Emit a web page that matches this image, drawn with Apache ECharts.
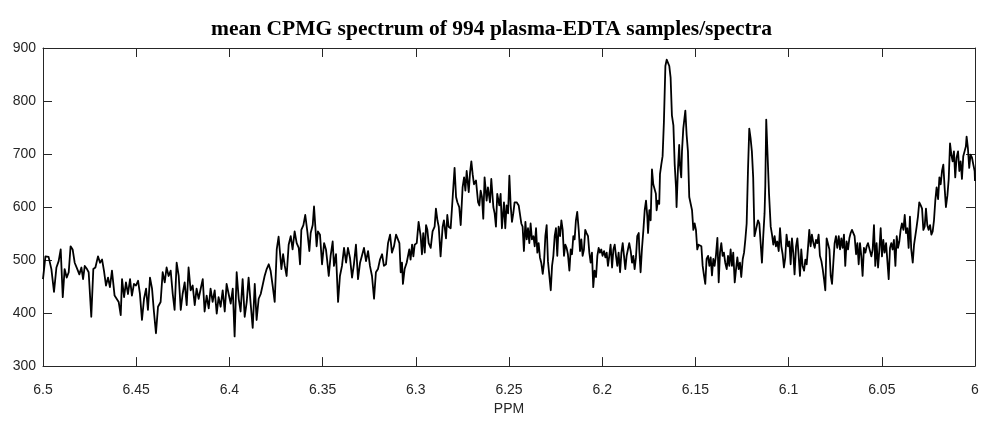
<!DOCTYPE html>
<html>
<head>
<meta charset="utf-8">
<script src="https://cdn.jsdelivr.net/npm/echarts@6/dist/echarts.min.js"></script>
<style>
html,body{margin:0;padding:0;background:#fff;}
#chart{width:983px;height:421px;}
</style>
</head>
<body>
<div id="chart"></div>
<script>
const titleText = 'mean CPMG spectrum of 994 plasma-EDTA samples/spectra';
const xAxisName = 'PPM';

const ppm = [
6.5000,6.4987,6.4970,6.4955,6.4941,6.4928,6.4916,6.4905,6.4894,6.4884,
6.4873,6.4862,6.4852,6.4841,6.4830,6.4816,6.4805,6.4794,6.4785,6.4776,
6.4764,6.4755,6.4741,6.4730,6.4719,6.4705,6.4694,6.4683,6.4673,6.4662,
6.4651,6.4641,6.4630,6.4616,6.4605,6.4594,6.4583,6.4576,6.4565,6.4555,
6.4544,6.4533,6.4523,6.4512,6.4501,6.4490,6.4480,6.4469,6.4458,6.4447,
6.4437,6.4426,6.4415,6.4405,6.4394,6.4383,
6.4369,6.4358,6.4347,6.4337,6.4326,6.4315,6.4304,6.4294,6.4283,6.4272,
6.4261,6.4251,6.4240,6.4229,6.4219,6.4208,6.4197,6.4186,6.4176,6.4165,
6.4154,6.4143,6.4133,6.4122,6.4111,6.4101,6.4090,6.4079,6.4068,6.4058,
6.4047,6.4036,6.4025,6.4015,6.4004,6.3993,6.3982,6.3972,6.3961,6.3950,
6.3940,6.3929,6.3918,6.3907,6.3897,6.3886,6.3875,6.3864,6.3854,6.3843,
6.3832,6.3822,6.3811,6.3800,6.3789,6.3779,6.3768,6.3757,6.3746,6.3736,
6.3721,6.3712,6.3703,6.3693,6.3682,6.3671,6.3661,6.3650,6.3639,6.3628,
6.3621,6.3614,6.3603,6.3593,6.3582,6.3571,6.3564,6.3553,6.3546,6.3539,
6.3532,6.3525,6.3514,6.3503,6.3492,6.3482,6.3475,6.3467,6.3457,6.3446,
6.3439,6.3428,6.3417,6.3407,6.3396,6.3385,6.3374,6.3364,6.3353,6.3342,
6.3332,6.3321,6.3310,6.3299,6.3289,6.3278,6.3267,6.3256,6.3246,6.3235,
6.3224,6.3214,6.3203,6.3192,6.3181,6.3171,6.3160,6.3149,6.3138,6.3128,
6.3117,6.3106,
6.3096,6.3088,6.3081,6.3074,6.3069,6.3060,6.3049,6.3042,6.3035,6.3028,
6.3020,6.3013,6.3006,6.2995,6.2985,6.2974,6.2967,6.2960,6.2952,6.2945,
6.2938,6.2931,6.2920,6.2910,6.2899,6.2892,6.2884,6.2877,6.2867,6.2856,
6.2849,6.2838,6.2831,6.2824,6.2813,6.2802,6.2792,6.2784,6.2777,6.2767,
6.2759,6.2749,6.2741,6.2734,6.2727,6.2716,6.2709,6.2702,6.2695,6.2688,
6.2677,6.2666,6.2659,6.2652,6.2645,6.2638,6.2631,6.2620,6.2613,6.2602,
6.2595,6.2584,6.2577,6.2570,6.2563,6.2552,6.2545,6.2538,6.2527,6.2520,
6.2513,6.2505,6.2498,6.2491,6.2484,6.2477,6.2470,6.2459,6.2448,
6.2443,6.2434,6.2427,6.2420,6.2412,6.2405,6.2398,6.2391,6.2384,6.2377,
6.2369,6.2362,6.2355,6.2348,6.2341,6.2334,6.2327,6.2319,6.2312,6.2305,
6.2298,6.2291,6.2284,6.2276,6.2269,6.2262,6.2255,6.2248,6.2241,6.2234,
6.2226,6.2219,6.2212,6.2205,6.2198,6.2191,6.2184,6.2176,6.2169,6.2162,
6.2155,6.2148,6.2141,6.2134,6.2126,6.2119,6.2112,6.2105,6.2098,6.2091,
6.2084,6.2076,6.2069,6.2062,6.2055,6.2048,6.2041,6.2033,6.2026,6.2019,
6.2012,6.2005,6.1998,6.1990,6.1983,6.1976,6.1969,6.1962,6.1955,6.1947,
6.1940,6.1933,6.1926,6.1919,6.1912,6.1904,6.1897,6.1890,6.1883,6.1876,
6.1869,6.1862,6.1855,6.1847,6.1840,6.1833,6.1826,6.1819,6.1812,6.1804,
6.1801,6.1794,6.1787,6.1779,6.1772,6.1765,6.1758,6.1754,6.1747,6.1740,
6.1733,6.1726,6.1719,6.1712,6.1708,6.1701,6.1694,6.1690,6.1683,6.1676,
6.1669,6.1661,6.1654,6.1647,6.1640,6.1633,6.1626,6.1618,6.1611,6.1604,
6.1601,6.1594,6.1587,6.1583,6.1576,6.1572,6.1565,6.1558,6.1554,6.1547,
6.1540,6.1533,6.1525,6.1518,6.1511,6.1504,6.1497,6.1490,6.1483,6.1475,
6.1468,6.1461,6.1454,6.1447,6.1440,6.1432,6.1425,6.1418,6.1411,6.1404,
6.1397,6.1390,6.1382,6.1375,6.1368,6.1361,6.1354,6.1347,6.1340,6.1332,
6.1325,6.1318,6.1311,6.1304,6.1297,6.1289,6.1282,6.1275,6.1268,6.1261,
6.1254,6.1246,6.1239,6.1232,6.1225,6.1218,6.1211,6.1204,6.1197,6.1190,
6.1183,
6.1164,6.1157,6.1150,6.1143,6.1136,6.1129,6.1125,6.1120,6.1113,6.1105,
6.1096,6.1089,6.1082,6.1075,6.1068,6.1061,6.1053,6.1046,6.1039,6.1032,
6.1025,6.1018,6.1011,6.1003,6.0996,6.0989,6.0982,6.0975,6.0968,6.0960,
6.0953,6.0946,6.0939,6.0932,6.0925,6.0917,6.0910,6.0903,6.0896,6.0889,
6.0882,6.0875,6.0867,6.0860,6.0853,6.0846,6.0839,6.0832,6.0824,6.0817,
6.0810,6.0803,6.0796,6.0789,6.0781,6.0774,6.0767,6.0760,6.0753,6.0746,
6.0739,6.0731,6.0724,6.0717,6.0710,6.0703,6.0696,6.0689,6.0681,6.0674,
6.0667,6.0660,6.0653,6.0646,6.0638,6.0631,6.0624,6.0617,6.0610,6.0603,
6.0596,6.0588,6.0581,6.0574,
6.0556,6.0549,6.0542,6.0535,6.0528,6.0520,6.0513,6.0506,6.0499,6.0492,
6.0485,6.0477,6.0470,6.0463,6.0456,6.0449,6.0442,6.0435,6.0427,6.0420,
6.0413,6.0406,6.0399,6.0392,6.0384,6.0377,6.0370,6.0363,6.0356,6.0349,
6.0342,6.0334,6.0327,6.0320,6.0313,6.0306,6.0299,6.0291,6.0284,6.0277,
6.0270,6.0263,6.0256,6.0249,6.0241,6.0234,6.0227,6.0220,6.0213,6.0206,
6.0198,6.0191,6.0184,6.0177,6.0170,6.0163,6.0156,6.0148,6.0141,6.0134,
6.0127,6.0120,6.0113,6.0106,6.0099,6.0091,6.0084,6.0077,6.0070,6.0063,
6.0056,6.0049,6.0045,6.0038,6.0031,6.0024,6.0016,6.0009,6.0002,6.0000
];

const intensity = [
464,507,506,483,440,486,498,520,430,483,
467,477,526,520,495,483,473,486,464,489,
483,477,393,483,486,507,495,501,480,452,
467,449,480,433,427,421,396,464,430,458,
436,464,433,455,452,461,436,387,427,446,
406,467,446,403,362,412,
421,477,458,486,470,480,436,406,495,470,
406,436,458,415,486,443,452,415,446,427,
446,464,403,433,409,446,421,443,399,430,
412,443,403,455,436,418,446,356,477,427,
403,464,393,421,467,418,372,455,387,427,
436,452,470,483,492,480,452,421,520,544,
483,511,489,470,529,545,520,554,532,523,
492,557,566,585,554,517,551,566,601,563,
526,554,548,492,532,520,498,470,508,535,
489,511,421,470,489,523,495,523,504,467,
492,529,464,495,508,523,498,517,489,470,
427,477,483,501,511,489,492,532,548,514,
526,548,
551,532,477,495,455,483,495,492,520,501,
529,507,529,532,572,545,511,551,514,566,
557,532,523,554,563,597,575,563,507,563,
575,541,585,563,560,619,674,619,609,600,
566,637,656,631,668,628,665,686,662,643,
650,609,603,631,619,578,656,612,637,609,
653,600,588,563,625,603,625,560,609,560,
603,588,659,603,572,588,609,609,603,
600,569,563,517,572,539,560,532,569,539,
545,526,560,514,532,505,495,474,495,545,
566,498,495,443,489,508,545,560,508,563,
545,575,557,508,529,523,511,480,520,511,
545,539,575,591,557,517,539,508,520,557,
551,545,514,495,514,449,480,468,508,523,
514,520,508,517,505,514,489,508,529,486,
520,529,508,489,514,477,514,532,508,483,
508,520,532,517,495,508,483,505,545,551,
520,477,520,557,594,612,582,551,594,575,
671,643,646,625,594,612,606,662,680,696,
760,866,878,875,866,844,773,754,680,637,
600,668,717,680,656,705,748,751,782,736,
705,619,616,594,557,569,557,520,529,526,
526,489,471,455,502,508,489,505,471,502,
489,508,542,458,514,532,508,514,495,483,
508,489,520,489,514,458,483,505,483,495,
468,502,514,539,569,668,748,730,705,656,
545,
575,569,532,495,545,588,640,765,700,625,
563,548,529,545,526,535,517,560,526,511,
486,504,548,526,535,492,541,514,473,526,
541,508,470,520,489,480,501,492,523,557,
526,548,532,523,538,532,548,508,498,483,
464,443,541,541,520,470,455,495,532,545,
523,545,520,541,523,548,489,535,520,541,
551,557,560,545,511,532,492,532,508,470,
523,514,526,532,
507,520,566,489,532,486,520,560,507,538,
514,532,535,464,523,532,520,538,489,545,
523,535,557,569,557,585,551,560,523,582,
520,495,529,532,563,582,609,603,597,557,
563,597,566,557,566,548,554,575,612,637,
615,656,643,668,680,637,600,622,653,720,
699,686,705,656,693,705,668,686,653,696,
705,714,733,711,674,699,693,680,668,649
];

const xMin = 6, xMax = 6.5, xStep = 0.05;
const yMin = 300, yMax = 900, yStep = 100;

if (ppm.length !== intensity.length) {
  console.error('length mismatch', ppm.length, intensity.length);
}
const n = Math.min(ppm.length, intensity.length);
const seriesData = [];
for (let i = 0; i < n; i++) seriesData.push([ppm[i], intensity[i]]);

const axisColor = '#262626';
const labelFont = 'Liberation Sans, Arial, Helvetica, sans-serif';

const chart = echarts.init(document.getElementById('chart'), null, {renderer: 'canvas'});
chart.setOption({
  animation: false,
  backgroundColor: '#ffffff',
  title: {
    text: titleText,
    left: 'center',
    top: 13,
    textStyle: {
      fontFamily: 'Liberation Serif, Times New Roman, serif',
      fontWeight: 'bold',
      fontSize: 21.5,
      color: '#000'
    }
  },
  grid: {left: 43, right: 8, top: 48, bottom: 49, containLabel: false},
  xAxis: [
    {
      type: 'value', min: xMin, max: xMax, interval: xStep, inverse: true,
      position: 'bottom',
      axisLine: {show: true, onZero: false, lineStyle: {color: axisColor, width: 1}},
      axisTick: {show: true, inside: true, length: 9, lineStyle: {color: axisColor}},
      axisLabel: {show: true, margin: 17, fontSize: 14, color: axisColor, fontFamily: labelFont},
      splitLine: {show: false},
      name: xAxisName, nameLocation: 'middle', nameGap: 34,
      nameTextStyle: {fontSize: 14, color: axisColor, fontFamily: labelFont}
    },
    {
      type: 'value', min: xMin, max: xMax, interval: xStep, inverse: true,
      position: 'top',
      axisLine: {show: true, onZero: false, lineStyle: {color: axisColor, width: 1}},
      axisTick: {show: true, inside: true, length: 9, lineStyle: {color: axisColor}},
      axisLabel: {show: false},
      splitLine: {show: false}
    }
  ],
  yAxis: [
    {
      type: 'value', min: yMin, max: yMax, interval: yStep,
      position: 'left',
      axisLine: {show: true, onZero: false, lineStyle: {color: axisColor, width: 1}},
      axisTick: {show: true, inside: true, length: 9, lineStyle: {color: axisColor}},
      axisLabel: {show: true, margin: 7, fontSize: 14, color: axisColor, fontFamily: labelFont},
      splitLine: {show: false}
    },
    {
      type: 'value', min: yMin, max: yMax, interval: yStep,
      position: 'right',
      axisLine: {show: true, onZero: false, lineStyle: {color: axisColor, width: 1}},
      axisTick: {show: true, inside: true, length: 9, lineStyle: {color: axisColor}},
      axisLabel: {show: false},
      splitLine: {show: false}
    }
  ],
  series: [
    {
      type: 'line',
      xAxisIndex: 0,
      yAxisIndex: 0,
      data: seriesData,
      showSymbol: false,
      symbol: 'none',
      lineStyle: {color: '#000000', width: 1.8, join: 'round'},
      z: 1
    }
  ]
});
</script>
</body>
</html>
